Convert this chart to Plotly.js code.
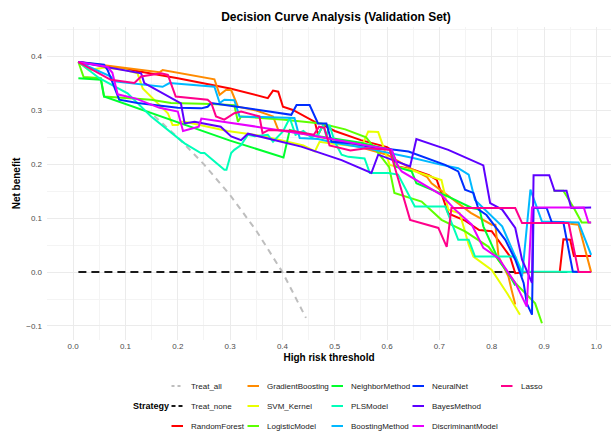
<!DOCTYPE html>
<html>
<head>
<meta charset="utf-8">
<script src="https://cdn.plot.ly/plotly-3.0.1.min.js"></script>
<style>html,body{margin:0;padding:0;background:#fff;}#chart{width:611px;height:432px;}</style>
</head>
<body>
<div id="chart"></div>
<script>
// ---------- data ----------
const strategyNames = ["Treat_all","Treat_none","RandomForest","GradientBoosting","SVM_Kernel","LogisticModel","NeighborMethod","PLSModel","BoostingMethod","NeuralNet","BayesMethod","DiscriminantModel","Lasso"];
const strategyColors = ["#BEBEBE","#1A1A1A","#FF0000","#FF8B00","#E8FF00","#5DFF00","#00FF2E","#00FFB9","#00B9FF","#002EFF","#5D00FF","#E800FF","#FF008B"];

const treatAllX = [0.155,0.2,0.25,0.3,0.35,0.4,0.445];
const treatAllY = [0.29,0.25,0.2,0.143,0.077,0.0,-0.085];
const treatNoneX = [0.01,0.99];
const treatNoneY = [0,0];

const rfX = [0.01,0.1,0.2,0.3,0.372,0.382,0.392,0.401,0.42,0.443,0.462,0.468,0.478,0.5,0.55,0.6,0.608,0.621,0.65,0.68,0.695,0.717,0.75,0.776,0.8,0.835,0.845,0.87,0.93,0.937,0.95,0.957,0.99];
const rfY = [0.39,0.377,0.36,0.341,0.323,0.337,0.335,0.307,0.301,0.289,0.279,0.255,0.273,0.262,0.245,0.232,0.227,0.196,0.19,0.18,0.171,0.109,0.095,0.078,0.076,0.029,-0.002,0.0,0.0,0.061,0.06,0.03,0.03];

const gbX = [0.01,0.1,0.165,0.171,0.27,0.28,0.292,0.302,0.315,0.35,0.382,0.392,0.45,0.5,0.55,0.6,0.65,0.676,0.685,0.72,0.76,0.8,0.807,0.813,0.832,0.838,0.845,null,0.95,0.966,0.99];
const gbY = [0.39,0.379,0.371,0.375,0.358,0.329,0.338,0.338,0.307,0.3,0.289,0.264,0.255,0.245,0.232,0.218,0.19,0.177,0.165,0.14,0.11,0.088,0.088,0.029,-0.008,-0.033,-0.06,null,0.09,0.088,0.0];

const svmX = [0.01,0.03,0.06,0.1,0.123,0.133,0.181,0.19,0.2,0.206,0.213,0.295,0.366,0.44,0.462,0.471,0.5,0.551,0.564,0.583,0.605,0.644,0.704,0.717,0.739,0.756,0.765,0.8,0.83,0.854];
const svmY = [0.39,0.375,0.38,0.375,0.369,0.341,0.295,0.273,0.273,0.279,0.279,0.262,0.252,0.235,0.224,0.242,0.238,0.233,0.261,0.26,0.199,0.19,0.171,0.116,0.109,0.051,0.029,0.004,-0.04,-0.079];

const lrX = [0.01,0.02,0.053,0.059,0.149,0.187,0.264,0.308,0.315,0.321,0.404,0.474,0.52,0.56,0.604,0.614,0.666,0.704,0.75,0.794,0.845,0.883,0.896,null,0.918,0.937,0.957,0.972,0.99];
const lrY = [0.39,0.362,0.36,0.326,0.32,0.314,0.312,0.31,0.279,0.289,0.283,0.276,0.265,0.25,0.195,0.147,0.131,0.097,0.075,0.047,-0.02,-0.058,-0.095,null,0.151,0.151,0.119,0.092,0.092];

const knnX = [0.01,0.053,0.059,0.2,0.3,0.402,0.414,0.45,0.5,0.55,0.6,0.609,0.615,0.647,0.656,0.717,0.762,0.777,0.784,0.813,0.832,0.845];
const knnY = [0.36,0.357,0.326,0.278,0.244,0.213,0.264,0.255,0.248,0.24,0.228,0.227,0.196,0.187,0.165,0.14,0.119,0.116,0.085,0.023,-0.002,-0.025];

const plsX = [0.01,0.05,0.104,0.149,0.213,0.244,0.251,0.289,0.293,0.302,0.308,0.321,0.334,0.347,0.372,0.382,0.401,0.414,0.425,0.44,0.455,0.468,0.478,0.484,0.49,0.5,0.513,0.526,0.557,0.567,0.602,0.621,0.653,0.711,0.73,0.736,0.756,0.768,0.845,0.858,0.99];
const plsY = [0.39,0.36,0.332,0.289,0.239,0.221,0.221,0.19,0.19,0.221,0.227,0.236,0.255,0.252,0.255,0.242,0.261,0.286,0.255,0.262,0.25,0.255,0.273,0.252,0.273,0.242,0.218,0.214,0.211,0.184,0.184,0.181,0.122,0.122,0.075,0.06,0.06,0.029,0.029,0.001,0.0];

const bstX = [0.01,0.072,0.079,0.171,0.184,0.27,0.28,0.289,0.308,0.318,0.423,0.433,0.468,0.5,0.55,0.6,0.65,0.7,0.736,0.756,0.768,0.82,0.845,0.858,0.874,0.896,0.966,0.99];
const bstY = [0.39,0.363,0.354,0.344,0.351,0.344,0.314,0.32,0.319,0.289,0.286,0.249,0.247,0.24,0.232,0.222,0.212,0.2,0.193,0.181,0.134,0.085,0.029,-0.008,0.153,0.094,0.092,0.032];

const nnX = [0.01,0.059,0.066,0.088,0.123,0.2,0.245,0.257,0.264,0.417,0.427,0.452,0.468,0.484,0.494,0.532,0.564,0.641,0.711,0.736,0.749,0.765,0.775,0.79,0.826,0.845,0.861,0.867,0.877,0.88,0.905,0.915,0.937,0.947,0.955,0.966];
const nnY = [0.39,0.385,0.375,0.32,0.314,0.305,0.304,0.307,0.314,0.292,0.31,0.31,0.276,0.276,0.242,0.239,0.233,0.224,0.199,0.187,0.153,0.147,0.116,0.106,0.06,0.023,-0.02,-0.058,-0.079,0.119,0.119,0.092,0.092,0.045,0.001,0.0];

const bayesX = [0.01,0.13,0.136,0.206,0.213,0.232,0.282,0.302,0.321,0.334,0.436,0.513,0.57,0.583,0.644,0.656,0.717,0.784,0.797,0.82,0.845,0.858,0.877,0.88,0.91,0.92,0.943,0.952,0.99];
const bayesY = [0.39,0.369,0.351,0.313,0.276,0.279,0.27,0.252,0.245,0.257,0.233,0.208,0.184,0.218,0.196,0.247,0.227,0.198,0.128,0.116,0.082,0.023,-0.02,0.18,0.18,0.151,0.151,0.119,0.12];

const discX = [0.01,0.066,0.075,0.085,0.12,0.165,0.2,0.21,0.24,0.245,0.35,0.45,0.532,0.609,0.621,0.628,0.704,0.73,0.762,0.784,0.813,0.845,0.867,0.877,0.976,0.985,0.99];
const discY = [0.39,0.381,0.37,0.33,0.322,0.305,0.298,0.262,0.27,0.285,0.27,0.255,0.24,0.227,0.196,0.187,0.143,0.116,0.088,0.045,0.026,-0.02,-0.064,0.12,0.12,0.092,0.092];

const lassoX = [0.01,0.072,0.117,0.13,0.168,0.181,0.196,0.257,0.264,0.273,0.289,0.308,0.321,0.356,0.362,0.374,0.42,0.46,0.47,0.48,0.49,0.53,0.56,0.605,0.644,0.698,0.714,0.723,0.845,0.858,0.947,0.966,0.99];
const lassoY = [0.39,0.357,0.351,0.363,0.369,0.366,0.326,0.32,0.314,0.289,0.283,0.295,0.298,0.289,0.258,0.264,0.262,0.255,0.27,0.268,0.235,0.226,0.23,0.227,0.097,0.082,0.047,0.119,0.119,0.091,0.091,0.0,0.0];

const seriesX = [treatAllX,treatNoneX,rfX,gbX,svmX,lrX,knnX,plsX,bstX,nnX,bayesX,discX,lassoX];
const seriesY = [treatAllY,treatNoneY,rfY,gbY,svmY,lrY,knnY,plsY,bstY,nnY,bayesY,discY,lassoY];

const xTickVals = [0,0.1,0.2,0.3,0.4,0.5,0.6,0.7,0.8,0.9,1.0];
const yTickVals = [-0.1,0,0.1,0.2,0.3,0.4];

// ---------- layout geometry ----------
const W = 611, H = 432, ML = 47, MR = 0, MT = 27, MB = 92;
const PW = W - ML - MR, PH = H - MT - MB;
const px2x = p => (p - ML) / PW;
const py2y = p => (H - MB - p) / PH;
const FONT = "Liberation Sans, Arial, sans-serif";

const dashes = {"Treat_all": "6px,5px", "Treat_none": "8px,5px"};

const traces = strategyNames.map((name, i) => ({
  type: "scatter", mode: "lines", name: name,
  x: seriesX[i], y: seriesY[i],
  connectgaps: false,
  line: {color: strategyColors[i], width: 2, dash: dashes[name] || "solid"},
  showlegend: false, hoverinfo: "x+y+name"
}));

// manual ggplot-style legend (column-major, 3 rows)
const legendCols = [171.5, 247.5, 331.5, 412.5, 501];
const legendRows = [386, 406, 426];
const shapes = [], annotations = [];
strategyNames.forEach((name, i) => {
  const c = Math.floor(i / 3), r = i % 3;
  const x0 = legendCols[c], yy = legendRows[r];
  shapes.push({type: "line", xref: "paper", yref: "paper",
    x0: px2x(x0), x1: px2x(x0 + 11.5), y0: py2y(yy), y1: py2y(yy),
    line: {color: strategyColors[i], width: 2, dash: name === "Treat_all" ? "3px,3px" : (name === "Treat_none" ? "4px,3px" : "solid")}});
  annotations.push({xref: "paper", yref: "paper", x: px2x(x0 + 17.5), y: py2y(yy),
    xanchor: "left", yanchor: "middle", showarrow: false, text: name,
    font: {family: FONT, size: 8, color: "#1A1A1A"}});
});
annotations.push({xref: "paper", yref: "paper", x: px2x(130.5), y: py2y(406),
  xanchor: "left", yanchor: "middle", showarrow: false, text: "<b>Strategy</b>",
  font: {family: FONT, size: 9, color: "#000"}});

const layout = {
  width: W, height: H,
  margin: {l: ML, r: MR, t: MT, b: MB, pad: 0},
  paper_bgcolor: "#fff", plot_bgcolor: "#fff",
  font: {family: FONT, color: "#000"},
  title: {text: "<b>Decision Curve Analysis (Validation Set)</b>", font: {family: FONT, size: 12, color: "#000"},
    xref: "container", x: 336 / W, xanchor: "center", yref: "container", y: 1 - 17 / H, yanchor: "middle"},
  xaxis: {range: [-0.05, 1.028], tickvals: xTickVals, tickformat: ".1f",
    showgrid: true, gridcolor: "#EBEBEB", gridwidth: 1, zeroline: false, showline: false,
    ticks: "", tickfont: {family: FONT, size: 8, color: "#4D4D4D"},
    minor: {dtick: 0.05, tick0: 0, showgrid: true, gridcolor: "#F4F4F4", gridwidth: 1},
    title: {text: "<b>High risk threshold</b>", font: {family: FONT, size: 10, color: "#000"}, standoff: 3}},
  yaxis: {range: [-0.126, 0.455], tickvals: yTickVals, tickformat: ".1f",
    showgrid: true, gridcolor: "#EBEBEB", gridwidth: 1, zeroline: false, showline: false,
    ticks: "", ticklabelstandoff: 4, tickfont: {family: FONT, size: 8, color: "#4D4D4D"},
    minor: {dtick: 0.05, tick0: 0, showgrid: true, gridcolor: "#F4F4F4", gridwidth: 1},
    title: {text: "<b>Net benefit</b>", font: {family: FONT, size: 10, color: "#000"}, standoff: 3}},
  shapes: shapes, annotations: annotations,
  showlegend: false
};

Plotly.newPlot("chart", traces, layout, {displayModeBar: false, staticPlot: true});
</script>
</body>
</html>
